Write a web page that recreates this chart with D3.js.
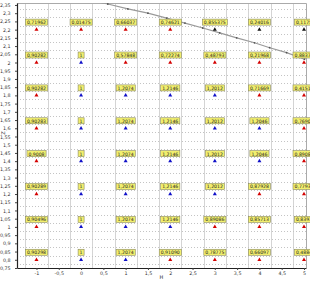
<!DOCTYPE html>
<html>
<head>
<meta charset="utf-8"/>
<title>chart</title>
<style>
  body, html {margin:0;padding:0;background:#fff;overflow:hidden;}
  svg {display:block;font-family:"DejaVu Sans",sans-serif;}
</style>
<script src="https://cdn.jsdelivr.net/npm/d3@7/dist/d3.min.js"></script>
</head>
<body>
<svg id="chart" width="310" height="282"></svg>
<script>
// columns (H) and rows (Z) of the labelled points
var colX = [-1, 0, 1, 2, 3, 4, 5];
var rowY = [2.2, 2.0, 1.8, 1.6, 1.4, 1.2, 1.0, 0.8];

var labels = [
  ["0,71962", "0,01475", "0,66037", "0,74621", "0,855375", "0,24016", "0,1175"],
  ["0,90282", "1", "0,57848", "0,72274", "0,48793", "0,21968", "0,88374"],
  ["0,90282", "1", "1,2074", "1,2146", "1,2012", "0,71669", "0,41513"],
  ["0,90283", "1", "1,2074", "1,2146", "1,2012", "1,2046", "0,76908"],
  ["0,9008", "1", "1,2074", "1,2146", "1,2012", "1,2046", "0,89081"],
  ["0,90289", "1", "1,2074", "1,2146", "1,2012", "0,87928", "0,77939"],
  ["0,90496", "1", "1,2074", "1,2146", "0,89086", "0,85713", "0,8393"],
  ["0,90298", "1", "1,2074", "0,91090", "0,78775", "0,66097", "0,4884"]
];
// marker colour per point: r = red, b = blue, k = black
var kinds = [
  ["r", "r", "r", "r", "k", "k", "k"],
  ["r", "b", "r", "r", "r", "r", "r"],
  ["r", "b", "b", "b", "b", "r", "r"],
  ["r", "b", "b", "b", "b", "b", "r"],
  ["r", "b", "b", "b", "b", "b", "r"],
  ["r", "b", "b", "b", "b", "r", "r"],
  ["r", "b", "b", "b", "r", "r", "r"],
  ["r", "b", "b", "r", "r", "r", "r"]
];

// the grey line with small dots
var lineX = [0.35, 0.60, 1.05, 1.50, 1.92, 2.33, 2.73, 3.11, 3.49, 3.89, 4.23, 4.61, 5.01];
var lineY = [2.37, 2.356, 2.326, 2.30, 2.27, 2.24, 2.21, 2.18, 2.15, 2.12, 2.09, 2.06, 2.02];

var xTicks = [-1, -0.5, 0, 0.5, 1, 1.5, 2, 2.5, 3, 3.5, 4, 4.5, 5];
var yTicks = [2.35, 2.3, 2.25, 2.2, 2.15, 2.1, 2.05, 2, 1.95, 1.9, 1.85, 1.8, 1.75, 1.7, 1.65,
  1.6, 1.55, 1.5, 1.45, 1.4, 1.35, 1.3, 1.25, 1.2, 1.15, 1.1, 1.05, 1, 0.95, 0.9, 0.85, 0.8, 0.75];

var colors = {r: "#d40000", b: "#1010c8", k: "#111"};

var svg = d3.select("#chart");
var L = 17, R = 306, T = 3, B = 268;

var x = d3.scaleLinear().domain([-1.437, 5.045]).range([L, R]);
var y = d3.scaleLinear().domain([0.75, 2.362]).range([B, T]);
var fmt = function (d) { return String(+d.toFixed(2)).replace(".", ","); };

// grid lines sit halfway between the ticks
var gx = xTicks.map(function (d) { return d + 0.25; }).filter(function (d) { return x(d) < R; });
gx.unshift(-1.25);
var gy = yTicks.map(function (d) { return d - 0.025; }).filter(function (d) { return y(d) < B; });

svg.append("g").selectAll("line").data(gx).enter().append("line")
  .attr("x1", function (d) { return Math.round(x(d)) + 0.5; })
  .attr("x2", function (d) { return Math.round(x(d)) + 0.5; })
  .attr("y1", T).attr("y2", B)
  .attr("stroke", "#d4d4d4").attr("stroke-width", 1);

svg.append("g").selectAll("line").data(gy).enter().append("line")
  .attr("x1", L).attr("x2", R)
  .attr("y1", function (d) { return Math.round(y(d)) + 0.5; })
  .attr("y2", function (d) { return Math.round(y(d)) + 0.5; })
  .attr("stroke", "#c4c4c4").attr("stroke-width", 1).attr("stroke-dasharray", "1,2");

// grey frame on top and right
svg.append("path")
  .attr("d", "M" + L + "," + (T + 0.5) + "H" + (R + 0.5) + "V" + B)
  .attr("fill", "none").attr("stroke", "#aaa");

// line
svg.append("clipPath").attr("id", "clip").append("rect")
  .attr("x", L).attr("y", T).attr("width", R - L).attr("height", B - T);
var pts = lineX.map(function (d, i) { return [d, lineY[i]]; });
var g = svg.append("g").attr("clip-path", "url(#clip)");
g.append("path").datum(pts)
  .attr("d", d3.line().x(function (d) { return x(d[0]); }).y(function (d) { return y(d[1]); }))
  .attr("fill", "none").attr("stroke", "#9a9a9a").attr("stroke-width", 1.2);
g.selectAll("circle").data(pts.slice(1)).enter().append("circle")
  .attr("cx", function (d) { return x(d[0]); })
  .attr("cy", function (d) { return y(d[1]); })
  .attr("r", 0.9).attr("fill", "#555");

// points and boxed labels
var cells = [];
rowY.forEach(function (ry, i) {
  colX.forEach(function (cx, j) {
    cells.push({x: cx, y: ry, text: labels[i][j], kind: kinds[i][j]});
  });
});

var cg = svg.append("g").selectAll("g").data(cells).enter().append("g")
  .attr("transform", function (d) { return "translate(" + x(d.x) + "," + y(d.y) + ")"; });

cg.append("path")
  .attr("d", d3.symbol().type(d3.symbolTriangle).size(7))
  .attr("fill", function (d) { return colors[d.kind]; });

var txt = cg.append("text")
  .attr("y", -5.6)
  .attr("text-anchor", "middle")
  .attr("font-size", 4.6)
  .attr("fill", "#222")
  .text(function (d) { return d.text; });

txt.each(function (d) {
  var bb = this.getBBox();
  d3.select(this.parentNode).insert("rect", "text")
    .attr("x", bb.x - 1.5).attr("y", -10.5)
    .attr("width", bb.width + 3).attr("height", 6)
    .attr("fill", "#f2ef6e").attr("stroke", "#8a8a60").attr("stroke-width", 0.6);
});

// axes
var ax = svg.append("g").attr("transform", "translate(0," + B + ")")
  .call(d3.axisBottom(x).tickValues(xTicks).tickFormat(fmt).tickSize(2).tickSizeOuter(0));
var ay = svg.append("g").attr("transform", "translate(" + L + ",0)")
  .call(d3.axisLeft(y).tickValues(yTicks).tickFormat(fmt).tickSize(2).tickSizeOuter(0));
[ax, ay].forEach(function (a) {
  a.selectAll("text").attr("font-size", 4.8).attr("fill", "#333").attr("font-family", "DejaVu Sans");
  a.select(".domain").attr("stroke", "#222").attr("stroke-width", 1.2);
  a.selectAll(".tick line").attr("stroke", "#444");
});
ax.selectAll("text").attr("y", 3).attr("dy", "0.75em");
ay.selectAll("text").attr("dx", "-0.3em");

svg.append("text").attr("x", (L + R) / 2).attr("y", 279)
  .attr("text-anchor", "middle").attr("font-size", 5).attr("fill", "#333").text("H");
svg.append("text").attr("transform", "translate(5,133) rotate(-90)")
  .attr("text-anchor", "middle").attr("font-size", 5).attr("fill", "#333").text("Z");
</script>
</body>
</html>
